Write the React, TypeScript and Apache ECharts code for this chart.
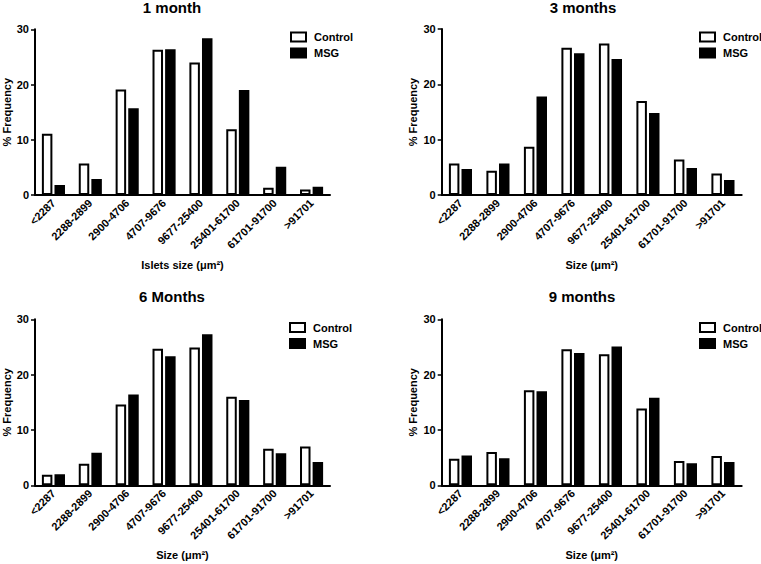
import React, { useEffect, useRef } from "react";
import * as echarts from "echarts";

const categories = ["<2287", "2288-2899", "2900-4706", "4707-9676", "9677-25400", "25401-61700", "61701-91700", ">91701"];
const panelTitles = ["1 month", "3 months", "6 Months", "9 months"];
const xAxisTitles = ["Islets size (μm²)", "Size (μm²)", "Size (μm²)", "Size (μm²)"];
const seriesNames = ["Control", "MSG"];
const yTicks = [0, 10, 20, 30];

const control1m = [11.1, 5.7, 19.1, 26.3, 24.0, 11.9, 1.3, 1.0];
const msg1m = [1.8, 2.9, 15.7, 26.4, 28.4, 19.0, 5.1, 1.5];
const control3m = [5.7, 4.4, 8.7, 26.6, 27.4, 17.0, 6.4, 3.9];
const msg3m = [4.7, 5.7, 17.8, 25.6, 24.6, 14.8, 4.9, 2.7];
const control6m = [1.9, 3.9, 14.6, 24.7, 24.9, 16.0, 6.6, 7.0];
const msg6m = [2.0, 5.9, 16.4, 23.3, 27.3, 15.4, 5.8, 4.2];
const control9m = [4.8, 6.0, 17.2, 24.6, 23.7, 13.9, 4.4, 5.3];
const msg9m = [5.4, 4.9, 17.0, 23.9, 25.1, 15.8, 4.0, 4.2];

const controlData = [control1m, control3m, control6m, control9m];
const msgData = [msg1m, msg3m, msg6m, msg9m];

const FONT = "'Liberation Sans', Arial, sans-serif";

const grids = [
  { left: 31, top: 29.3, width: 299, height: 165.7 },
  { left: 441.7, top: 29, width: 300, height: 166 },
  { left: 31, top: 319.3, width: 299, height: 166 },
  { left: 441.7, top: 319.3, width: 300, height: 166 },
];
const titlePos = [
  { left: 172, top: 0 },
  { left: 583, top: 0 },
  { left: 172, top: 289 },
  { left: 582, top: 289 },
];
const legendPos = [
  { left: 290, top: 31.5 },
  { left: 699, top: 31.5 },
  { left: 289, top: 322 },
  { left: 699, top: 322 },
];

export default function App() {
  const ref = useRef<HTMLDivElement>(null);
  useEffect(() => {
    if (!ref.current) return;
    const chart = echarts.init(ref.current, undefined, { renderer: "svg" });
    const series: any[] = [];
    for (let i = 0; i < 4; i++) {
      series.push({
        type: "bar",
        name: seriesNames[0],
        xAxisIndex: i,
        yAxisIndex: i,
        data: controlData[i],
        barWidth: 10.5,
        itemStyle: { color: "#ffffff", borderColor: "#000", borderWidth: 2 },
      });
      series.push({
        type: "bar",
        name: seriesNames[1],
        xAxisIndex: i,
        yAxisIndex: i,
        data: msgData[i],
        barWidth: 10.5,
        barGap: "20%",
        itemStyle: { color: "#000", borderColor: "#000", borderWidth: 2 },
      });
    }
    chart.setOption({
      animation: false,
      backgroundColor: "#fff",
      textStyle: { fontFamily: FONT },
      title: panelTitles.map((t, i) => ({
        text: t,
        left: titlePos[i].left,
        top: titlePos[i].top,
        textAlign: "center",
        padding: 0,
        textStyle: { fontFamily: FONT, fontSize: 15, fontWeight: "bold", color: "#000" },
      })),
      legend: legendPos.map((p) => ({
        data: seriesNames,
        left: p.left,
        top: p.top,
        orient: "vertical",
        icon: "rect",
        itemWidth: 15,
        itemHeight: 9,
        itemGap: 5,
        padding: 0,
        textStyle: { fontFamily: FONT, fontSize: 11, fontWeight: "bold", color: "#000", padding: [0, 0, 0, 3] },
      })),
      grid: grids,
      xAxis: grids.map((_, i) => ({
        type: "category",
        gridIndex: i,
        data: categories,
        axisLine: { lineStyle: { color: "#000", width: 2 } },
        axisTick: { alignWithLabel: true, length: 4, lineStyle: { color: "#000", width: 1.5 } },
        axisLabel: { rotate: 45, interval: 0, fontSize: 11, fontWeight: "bold", color: "#000", margin: 6, fontFamily: FONT },
        name: xAxisTitles[i],
        nameLocation: "middle",
        nameGap: 64,
        nameTextStyle: { fontSize: 11, fontWeight: "bold", color: "#000", fontFamily: FONT },
      })),
      yAxis: grids.map((_, i) => ({
        type: "value",
        gridIndex: i,
        min: yTicks[0],
        max: yTicks[yTicks.length - 1],
        interval: 10,
        splitLine: { show: false },
        axisLine: { show: true, lineStyle: { color: "#000", width: 2 } },
        axisTick: { show: true, length: 4, lineStyle: { color: "#000", width: 1.5 } },
        axisLabel: { fontSize: 11, fontWeight: "bold", color: "#000", margin: 6, fontFamily: FONT },
        name: "% Frequency",
        nameLocation: "middle",
        nameRotate: 90,
        nameGap: 23,
        nameTextStyle: { fontSize: 11, fontWeight: "bold", color: "#000", fontFamily: FONT },
      })),
      series,
    });
    return () => chart.dispose();
  }, []);
  return (
    <div
      ref={ref}
      style={{ position: "fixed", left: 0, top: 0, width: 761, height: 564, background: "#fff" }}
    />
  );
}
